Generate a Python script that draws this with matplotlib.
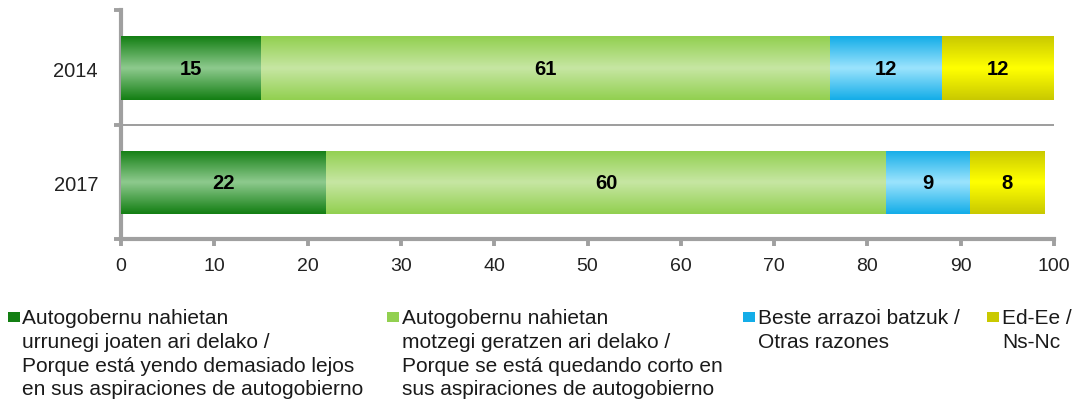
import numpy as np
import matplotlib
matplotlib.use("Agg")
import matplotlib.pyplot as plt
from matplotlib.colors import LinearSegmentedColormap
from matplotlib.patches import Rectangle

plt.rcParams['font.family'] = ['Liberation Sans', 'DejaVu Sans']

# data
years = ["2017", "2014"]
too_far = [22, 15]
too_short = [60, 61]
other = [9, 12]
dk_na = [8, 12]
series = [too_far, too_short, other, dk_na]
legend_labels = [
    "Autogobernu nahietan\nurrunegi joaten ari delako /\nPorque está yendo demasiado lejos\nen sus aspiraciones de autogobierno",
    "Autogobernu nahietan\nmotzegi geratzen ari delako /\nPorque se está quedando corto en\nsus aspiraciones de autogobierno",
    "Beste arrazoi batzuk /\nOtras razones",
    "Ed-Ee /\nNs-Nc",
]

# (edge colour, centre colour) for the vertical gradient of each series
shades = [("#137f13", "#8dc98d"),
          ("#92d050", "#c6e6a2"),
          ("#14ade8", "#9ae3fd"),
          ("#c9c900", "#ffff00")]

W, H = 1091, 402
fig = plt.figure(figsize=(W / 100, H / 100), dpi=100)
ax = fig.add_axes([121/W, 1 - 239.5/H, (1054-121)/W, (239.5-11)/H])

bar_h = 0.558
ypos = np.arange(len(years))
grad = np.concatenate([np.linspace(0, 1, 50), np.linspace(1, 0, 50)]).reshape(-1, 1)

left = np.zeros(len(years))
for vals, (c_edge, c_mid) in zip(series, shades):
    cmap = LinearSegmentedColormap.from_list("g", [c_edge, c_mid])
    bars = ax.barh(ypos, vals, left=left, height=bar_h, color=c_edge,
                   edgecolor="none", zorder=2)
    for b, v, l in zip(bars, vals, left):
        y0 = b.get_y()
        im = ax.imshow(grad, cmap=cmap, aspect="auto", interpolation="bicubic",
                       extent=[l, l + v, y0, y0 + bar_h], zorder=3)
        im.set_clip_path(b)
        ax.text(l + v / 2, y0 + bar_h / 2, str(v), ha="center", va="center",
                fontsize=14.5, fontweight="bold", color="black", zorder=4)
    left = left + np.array(vals)

ax.axhline(0.5, color="#8c8c8c", lw=1.2, zorder=1)

ax.set_xlim(0, 100)
ax.set_ylim(-0.49, 1.51)
ax.set_xticks(np.arange(0, 101, 10))
ax.set_yticks([-0.49, 0.5, 1.51])
ax.set_yticklabels([])
ax.set_yticks(ypos, minor=True)
ax.set_yticklabels(years, minor=True)
ax.tick_params(axis="y", which="minor", length=0, pad=16.5, labelsize=14.5,
               labelcolor="#222222")
ax.tick_params(axis="y", which="major", length=5, width=2.8, color="#a0a0a0")
ax.tick_params(axis="x", length=5, width=2.8, color="#a0a0a0", labelsize=14,
               pad=8, labelcolor="#222222")
for s in ["top", "right"]:
    ax.spines[s].set_visible(False)
for s in ["left", "bottom"]:
    ax.spines[s].set_color("#a0a0a0")
    ax.spines[s].set_linewidth(3)

# legend drawn by hand below the plot
sq_x = [8, 387, 743, 987]
txt_x = [22, 402, 758, 1002]
for sx, tx, lab, (c_edge, c_mid) in zip(sq_x, txt_x, legend_labels, shades):
    fig.patches.append(Rectangle((sx / W, 1 - 323/H), 12/W, 10/H,
                                 facecolor=c_edge, edgecolor="none",
                                 transform=fig.transFigure))
    fig.text(tx / W, 1 - 309/H, lab, ha="left", va="top",
             fontsize=15, color="#1a1a1a", linespacing=1.32)

fig.savefig("out.png", dpi=100)
